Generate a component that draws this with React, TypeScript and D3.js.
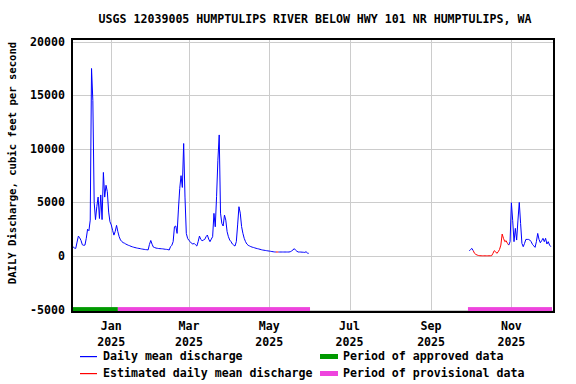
import * as d3 from "d3";

// chart text
const title = "USGS 12039005 HUMPTULIPS RIVER BELOW HWY 101 NR HUMPTULIPS, WA";
const yAxisTitle = "DAILY Discharge, cubic feet per second";
const yTicks = [-5000, 0, 5000, 10000, 15000, 20000];
const monthTicks = ["2025-01-01", "2025-03-01", "2025-05-01", "2025-07-01", "2025-09-01", "2025-11-01"];
const monthLabels = ["Jan", "Mar", "May", "Jul", "Sep", "Nov"];
const yearLabels = ["2025", "2025", "2025", "2025", "2025", "2025"];

// daily mean discharge, cfs, Dec 2 2024 - May 31 2025
const winterStart = "2024-12-02";
const winterFlow = [
  // Dec
  930, 850, 750, 710, 1300, 1860, 1700, 1450, 1050, 1000, 1020, 1650, 2500, 2360, 3350,
  17500, 14500, 5000, 3400, 4600, 5500, 3500, 5700, 3400, 7800, 5500, 6600, 6000, 4100, 3200,
  // Jan
  2900, 2400, 1950, 2300, 2860, 2270, 1800, 1500, 1350, 1250, 1200, 1120, 1060, 1000, 960,
  900, 860, 820, 790, 760, 730, 710, 690, 660, 640, 620, 600, 590, 570, 1080, 1450,
  // Feb
  1100, 830, 790, 740, 720, 700, 690, 680, 670, 650, 630, 620, 600, 560, 870,
  1000, 1340, 2730, 2800, 2110, 4300, 6300, 7500, 6400, 10500, 5500, 2110, 1650,
  // Mar
  1450, 1340, 1180, 1120, 1180, 1050, 930, 1340, 1860, 1550, 1430, 1490, 1550, 1800, 1960,
  1580, 1340, 1580, 1800, 3980, 2730, 5530, 8940, 11300, 4000, 3040, 2800, 3820, 3350, 2270, 1800,
  // Apr
  1490, 1340, 1120, 1020, 930, 1340, 2900, 4600, 4000, 2750, 2120, 1650, 1340, 1120, 1000,
  940, 880, 830, 800, 760, 720, 690, 660, 625, 590, 560, 540, 520, 500, 480,
  // May
  460, 440, 420, 400, 380, 375, 375, 375, 375, 375, 375, 375, 375, 375, 375,
  375, 400, 470, 560, 690, 550, 450, 375, 375, 370, 360, 350, 340, 400, 280, 250,
];
const winterEstimated = ["2025-05-06", "2025-05-08"];

// daily mean discharge, cfs, Sep 30 - Dec 1 2025
const fallStart = "2025-09-30";
const fallFlow = [
  500, 600, 710, 500, 250, 150, 90, 50, 30, 25, 20, 20, 20, 20, 20, 20, 25, 30,
  250, 500, 400, 250, 400, 620, 1020, 2050, 1650, 1340, 1430, 1180, 1020, 1340,
  4970, 3300, 1340, 2580, 1490, 3350, 5000, 3040, 1180, 870, 1180, 1550, 1550, 1550,
  1490, 1340, 1090, 950, 810, 1340, 2110, 1550, 1240, 1430, 1650, 1340, 1650, 1120,
  1340, 1020, 870,
];
const fallEstimated = ["2025-10-03", "2025-10-30"];

// approval status periods
const approvedPeriods = [["2024-12-02", "2025-01-06"]];
const provisionalPeriods = [
  ["2025-01-06", "2025-06-01"],
  ["2025-09-29", "2025-12-02"],
];

const legendLines = ["Daily mean discharge", "Estimated daily mean discharge"];
const legendBars = ["Period of approved data", "Period of provisional data"];

const parse = d3.timeParse("%Y-%m-%d");
const FONT = "'DejaVu Sans Mono', monospace";
const BLUE = "#0000ff";
const RED = "#ff0000";
const GREEN = "#009900";
const PINK = "#ee44dd";

type Pt = { date: Date; value: number; est: boolean };

const buildPoints = (start: string, flow: number[], est: string[]): Pt[] => {
  const s = parse(start)!;
  const e0 = parse(est[0])!;
  const e1 = parse(est[1])!;
  return flow.map((v, i) => {
    const date = d3.timeDay.offset(s, i);
    return { date, value: v, est: date >= e0 && date <= e1 };
  });
};

// split the series into runs of blue / red segments
const splitRuns = (pts: Pt[]) => {
  const runs: { est: boolean; pts: Pt[] }[] = [];
  for (let i = 0; i < pts.length - 1; i++) {
    const est = pts[i].est && pts[i + 1].est;
    const last = runs[runs.length - 1];
    if (last && last.est === est) last.pts.push(pts[i + 1]);
    else runs.push({ est, pts: [pts[i], pts[i + 1]] });
  }
  return runs;
};

export default function App() {
  const W = 576;
  const H = 384;
  const left = 72;
  const right = 554;
  const top = 39;
  const bottom = 312;

  const x = d3
    .scaleTime()
    .domain([parse("2024-12-02")!, parse("2025-12-03")!])
    .range([71.8, 553.5]);
  const y = d3.scaleLinear().domain([-5000, 20000]).range([309.6, 41.7]);

  const line = d3
    .line<Pt>()
    .x((d) => x(d.date))
    .y((d) => y(d.value));

  const runs = [
    ...splitRuns(buildPoints(winterStart, winterFlow, winterEstimated)),
    ...splitRuns(buildPoints(fallStart, fallFlow, fallEstimated)),
  ];

  const barY = y(-5000);
  const legendColors = [BLUE, RED];
  const barColors = [GREEN, PINK];

  return (
    <svg width={W} height={H} style={{ position: "absolute", left: 0, top: 0 }} fontFamily={FONT} fontWeight="bold">
      <rect width={W} height={H} fill="#fff" />
      <text x={315} y={23} fontSize={11.6} textAnchor="middle">
        {title}
      </text>

      {/* grid */}
      {yTicks.map((t) => (
        <line key={"gy" + t} x1={left} x2={right} y1={Math.round(y(t)) + 0.5} y2={Math.round(y(t)) + 0.5} stroke="#cccccc" />
      ))}
      {monthTicks.map((m) => {
        const xx = Math.round(x(parse(m)!)) + 0.5;
        return <line key={"gx" + m} x1={xx} x2={xx} y1={top} y2={bottom} stroke="#cccccc" />;
      })}

      {/* status bars */}
      {approvedPeriods.map((p, i) => (
        <rect key={"ap" + i} x={Math.max(left, x(parse(p[0])!))} width={x(parse(p[1])!) - Math.max(left, x(parse(p[0])!))} y={barY - 2.5} height={4} fill={GREEN} />
      ))}
      {provisionalPeriods.map((p, i) => (
        <rect key={"pp" + i} x={x(parse(p[0])!)} width={Math.min(right - 2, x(parse(p[1])!)) - x(parse(p[0])!)} y={barY - 2.5} height={4} fill={PINK} />
      ))}

      {/* discharge */}
      {runs.map((r, i) => (
        <path key={"r" + i} d={line(r.pts) ?? ""} fill="none" stroke={r.est ? RED : BLUE} strokeWidth={1} />
      ))}

      {/* frame */}
      <rect x={left} y={top} width={right - left} height={bottom - top} fill="none" stroke="#000" strokeWidth={2} />

      {/* y axis */}
      {yTicks.map((t) => (
        <text key={"ty" + t} x={65} y={y(t) + 4} fontSize={11.6} textAnchor="end">
          {t}
        </text>
      ))}
      <text transform={`translate(16,163) rotate(-90)`} fontSize={10.6} textAnchor="middle">
        {yAxisTitle}
      </text>

      {/* x axis */}
      {monthTicks.map((m, i) => {
        const xx = x(parse(m)!);
        return (
          <g key={"tx" + m}>
            <text x={xx} y={330} fontSize={11.6} textAnchor="middle">
              {monthLabels[i]}
            </text>
            <text x={xx} y={346} fontSize={11.6} textAnchor="middle">
              {yearLabels[i]}
            </text>
          </g>
        );
      })}

      {/* legend */}
      {legendLines.map((t, i) => (
        <g key={"ll" + i}>
          <rect x={80} width={17} y={356 + i * 17} height={1.2} fill={legendColors[i]} />
          <text x={103} y={360 + i * 17} fontSize={11.6}>
            {t}
          </text>
        </g>
      ))}
      {legendBars.map((t, i) => (
        <g key={"lb" + i}>
          <rect x={320} width={18} y={354 + i * 17} height={5} fill={barColors[i]} />
          <text x={343} y={360 + i * 17} fontSize={11.6}>
            {t}
          </text>
        </g>
      ))}
    </svg>
  );
}
